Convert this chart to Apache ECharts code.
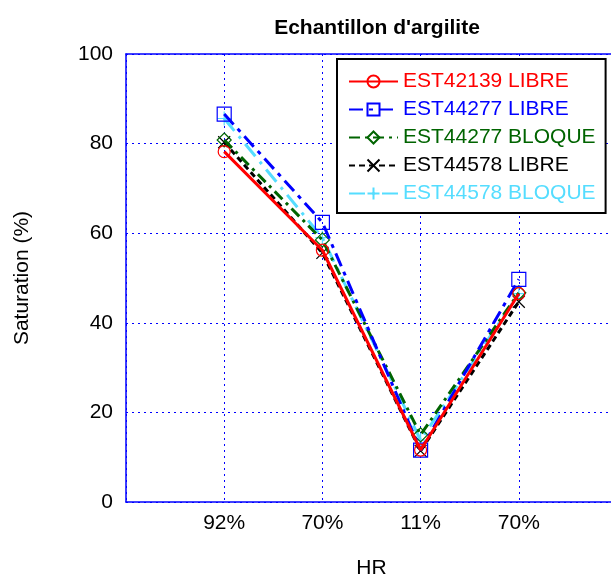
<!DOCTYPE html>
<html>
<head>
<meta charset="utf-8">
<script src="https://cdn.jsdelivr.net/npm/echarts@6/dist/echarts.min.js"></script>
<style>html,body{margin:0;padding:0;background:#fff}#c{width:611px;height:575px}</style>
</head>
<body>
<div id="c"></div>
<script>
var hrLabels = ['92%', '70%', '11%', '70%'];
var seriesNames = ['EST42139 LIBRE', 'EST44277 LIBRE', 'EST44277 BLOQUE', 'EST44578 LIBRE', 'EST44578 BLOQUE'];
var est42139Libre = [78.2, 56.2, 11.6, 46.5];
var est44277Libre = [86.6, 62.4, 11.6, 49.7];
var est44277Bloque = [80.8, 58.5, 15.0, 46.7];
var est44578Libre = [80.3, 55.6, 11.4, 44.7];
var est44578Bloque = [85.6, 59.0, 13.8, 46.5];
var yTicks = [0, 20, 40, 60, 80, 100];

var FONT = 'Liberation Sans, Arial, sans-serif';
var xPath = 'path://M0,0L10,10M10,0L0,10';
var plusPath = 'path://M5,0L5,10M0,5L10,5';

function pts(arr) { return arr.map(function (v, i) { return [i + 1, v]; }); }

var styles = [
  { color: '#ff0000', text: '#ff0000', symbol: 'circle', size: 12, dash: 'solid' },
  { color: '#0000ff', text: '#0000ff', symbol: 'rect', size: 14, dash: [14, 6, 4, 6] },
  { color: '#006400', text: '#006400', symbol: 'diamond', size: 14, dash: [11, 5, 3, 5] },
  { color: '#000000', text: '#000000', symbol: xPath, size: 12, dash: [6, 4] },
  { color: '#55ddff', text: '#55ddff', symbol: plusPath, size: 14, dash: [16, 7, 3, 7] }
];
var datasets = [est42139Libre, est44277Libre, est44277Bloque, est44578Libre, est44578Bloque];

var series = datasets.map(function (d, i) {
  var s = styles[i];
  return {
    name: seriesNames[i],
    type: 'line',
    data: pts(d),
    symbol: s.symbol,
    symbolSize: s.size,
    lineStyle: { color: s.color, width: 3, type: s.dash },
    itemStyle: { color: 'rgba(255,255,255,0)', borderColor: s.color, borderWidth: 1.2 },
    emphasis: { disabled: true },
    z: 2 + (4 - i)
  };
});

var chart = echarts.init(document.getElementById('c'), null, { renderer: 'canvas' });
chart.setOption({
  animation: false,
  backgroundColor: '#ffffff',
  title: {
    text: "Echantillon d'argilite",
    left: 372, top: 13, textAlign: 'center',
    textStyle: { fontFamily: FONT, fontSize: 21, fontWeight: 'bold', color: '#000' }
  },
  legend: {
    orient: 'vertical',
    left: 337, top: 59,
    padding: [12, 10, 9, 11],
    backgroundColor: '#ffffff',
    borderColor: '#000000', borderWidth: 2,
    itemWidth: 49, itemHeight: 15, itemGap: 7,
    data: seriesNames.map(function (n, i) {
      return { name: n, textStyle: { color: styles[i].text } };
    }),
    textStyle: { fontFamily: FONT, fontSize: 21, lineHeight: 21 }
  },
  grid: { left: 126, top: 54, width: 491, height: 448, outerBoundsMode: 'none' },
  xAxis: [{
    type: 'value', min: 0, max: 5, interval: 1,
    name: 'HR', nameLocation: 'middle', nameGap: 56,
    nameTextStyle: { fontFamily: FONT, fontSize: 21, color: '#000' },
    axisLine: { show: true, lineStyle: { color: '#0000ff', width: 1.5 } },
    axisTick: { show: false },
    axisLabel: {
      fontFamily: FONT, fontSize: 21, color: '#000', margin: 11,
      formatter: function (v) { return (v >= 1 && v <= 4) ? hrLabels[v - 1] : ''; }
    },
    splitLine: { show: true, lineStyle: { color: '#0000ff', type: [2, 4], width: 1 } }
  }, {
    type: 'value', min: 0, max: 5, interval: 1, position: 'top',
    axisLine: { show: true, lineStyle: { color: '#0000ff', width: 1.5 } },
    axisTick: { show: false }, axisLabel: { show: false }, splitLine: { show: false }
  }],
  yAxis: {
    type: 'value', min: 0, max: 100, interval: 20,
    name: 'Saturation (%)', nameLocation: 'middle', nameGap: 93,
    nameTextStyle: { fontFamily: FONT, fontSize: 21, color: '#000' },
    axisLine: { show: true, lineStyle: { color: '#0000ff', width: 1.5 } },
    axisTick: { show: false },
    axisLabel: {
      fontFamily: FONT, fontSize: 21, color: '#000', margin: 13,
      formatter: function (v) { return yTicks.indexOf(v) >= 0 ? String(v) : ''; }
    },
    splitLine: { show: true, lineStyle: { color: '#0000ff', type: [2, 4], width: 1 } }
  },
  series: series
});
</script>
</body>
</html>
